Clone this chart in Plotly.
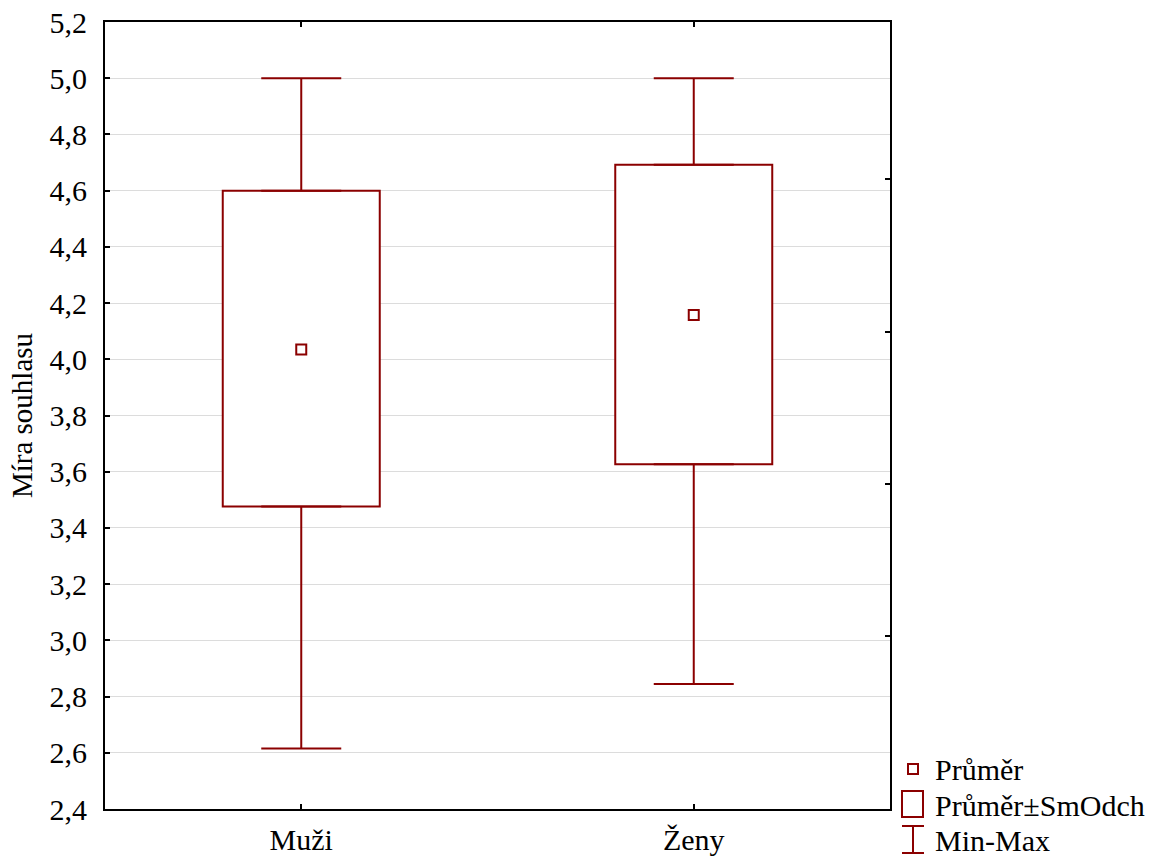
import plotly.graph_objects as go

categories = ["Muži", "Ženy"]
means = [4.035, 4.158]
sd_low = [3.476, 3.627]
sd_high = [4.600, 4.692]
mins = [2.615, 2.845]
maxs = [5.0, 5.0]
y_ticks = [2.4, 2.6, 2.8, 3.0, 3.2, 3.4, 3.6, 3.8, 4.0, 4.2, 4.4, 4.6, 4.8, 5.0, 5.2]
right_ticks = [3.016, 3.556, 4.098, 4.642]
legend_labels = ["Průměr", "Průměr±SmOdch", "Min-Max"]

RED = "#8b0000"
FONT = "Liberation Serif"
FS = 30
xs = list(range(len(categories)))

# plot area in pixels (for placing the manual legend in paper coords)
L, R, T, B = 105, 890, 22, 809
def px(x):
    return (x - L) / (R - L)
def py(y):
    return (B - y) / (B - T)

fig = go.Figure()

# whiskers (upper and lower) via error bars
fig.add_trace(go.Scatter(
    x=xs, y=sd_high, mode="markers", marker=dict(size=1, opacity=0),
    error_y=dict(type="data", symmetric=False,
                 array=[mx - h for mx, h in zip(maxs, sd_high)],
                 arrayminus=[0] * len(xs), color=RED, thickness=2, width=40),
    showlegend=False, hoverinfo="skip"))
fig.add_trace(go.Scatter(
    x=xs, y=sd_low, mode="markers", marker=dict(size=1, opacity=0),
    error_y=dict(type="data", symmetric=False,
                 array=[0] * len(xs),
                 arrayminus=[l - mn for l, mn in zip(sd_low, mins)],
                 color=RED, thickness=2, width=40),
    showlegend=False, hoverinfo="skip"))

# mean ± SD boxes
fig.add_trace(go.Bar(
    x=xs, base=sd_low, y=[h - l for h, l in zip(sd_high, sd_low)],
    width=0.4, marker=dict(color="rgba(255,255,255,1)", line=dict(color=RED, width=2)),
    showlegend=False, hoverinfo="skip"))

# means
fig.add_trace(go.Scatter(
    x=xs, y=means, mode="markers",
    marker=dict(symbol="square-open", size=10, color=RED, line=dict(color=RED, width=2)),
    showlegend=False, hoverinfo="skip"))

# dummy trace for right-side axis ticks
fig.add_trace(go.Scatter(x=[0], y=[4.0], yaxis="y2", mode="markers",
                         marker=dict(opacity=0), showlegend=False, hoverinfo="skip"))

# legend drawn manually (outside plot area, bottom right)
line = dict(color=RED, width=2)
fig.add_shape(type="rect", xref="paper", yref="paper",
              x0=px(908), x1=px(918), y0=py(774), y1=py(764), line=line, fillcolor="white")
fig.add_shape(type="rect", xref="paper", yref="paper",
              x0=px(902), x1=px(923), y0=py(817), y1=py(791), line=line, fillcolor="white")
fig.add_shape(type="line", xref="paper", yref="paper",
              x0=px(913), x1=px(913), y0=py(853), y1=py(826), line=line)
fig.add_shape(type="line", xref="paper", yref="paper",
              x0=px(902), x1=px(924), y0=py(826), y1=py(826), line=line)
fig.add_shape(type="line", xref="paper", yref="paper",
              x0=px(902), x1=px(924), y0=py(853), y1=py(853), line=line)
for lab, yy in zip(legend_labels, [769, 805, 840]):
    fig.add_annotation(text=lab, xref="paper", yref="paper", x=px(933), y=py(yy),
                       xanchor="left", yanchor="middle", showarrow=False,
                       font=dict(family=FONT, size=FS, color="black"))

fig.update_layout(
    width=1156, height=856,
    margin=dict(l=L, r=1156 - R, t=T, b=856 - B, autoexpand=False),
    paper_bgcolor="white", plot_bgcolor="white",
    separators=", ",
    font=dict(family=FONT, size=FS, color="black"),
    barmode="overlay",
    xaxis=dict(range=[-0.5, 1.5], tickvals=xs, ticktext=categories,
               ticks="inside", ticklen=5, tickwidth=2, tickcolor="black",
               showline=True, linecolor="black", linewidth=2, mirror="ticks",
               showgrid=False, zeroline=False, ticklabelstandoff=3, automargin=False,
               tickfont=dict(family=FONT, size=FS)),
    yaxis=dict(range=[2.4, 5.2], tickvals=y_ticks,
               tickformat=".1f", ticks="inside", ticklen=5, tickwidth=2, tickcolor="black",
               showline=True, linecolor="black", linewidth=2, mirror=True,
               showgrid=True, gridcolor="#dcdcdc", gridwidth=1, zeroline=False,
               ticklabelstandoff=10, automargin=False,
               title=dict(text="Míra souhlasu", font=dict(family=FONT, size=FS - 1), standoff=8),
               tickfont=dict(family=FONT, size=FS)),
    yaxis2=dict(range=[2.4, 5.2], overlaying="y", side="right", tickvals=right_ticks,
                showticklabels=False, ticks="inside", ticklen=5, tickwidth=2,
                tickcolor="black", showgrid=False, zeroline=False, showline=False,
                automargin=False),
)

fig.write_html("out.html")
